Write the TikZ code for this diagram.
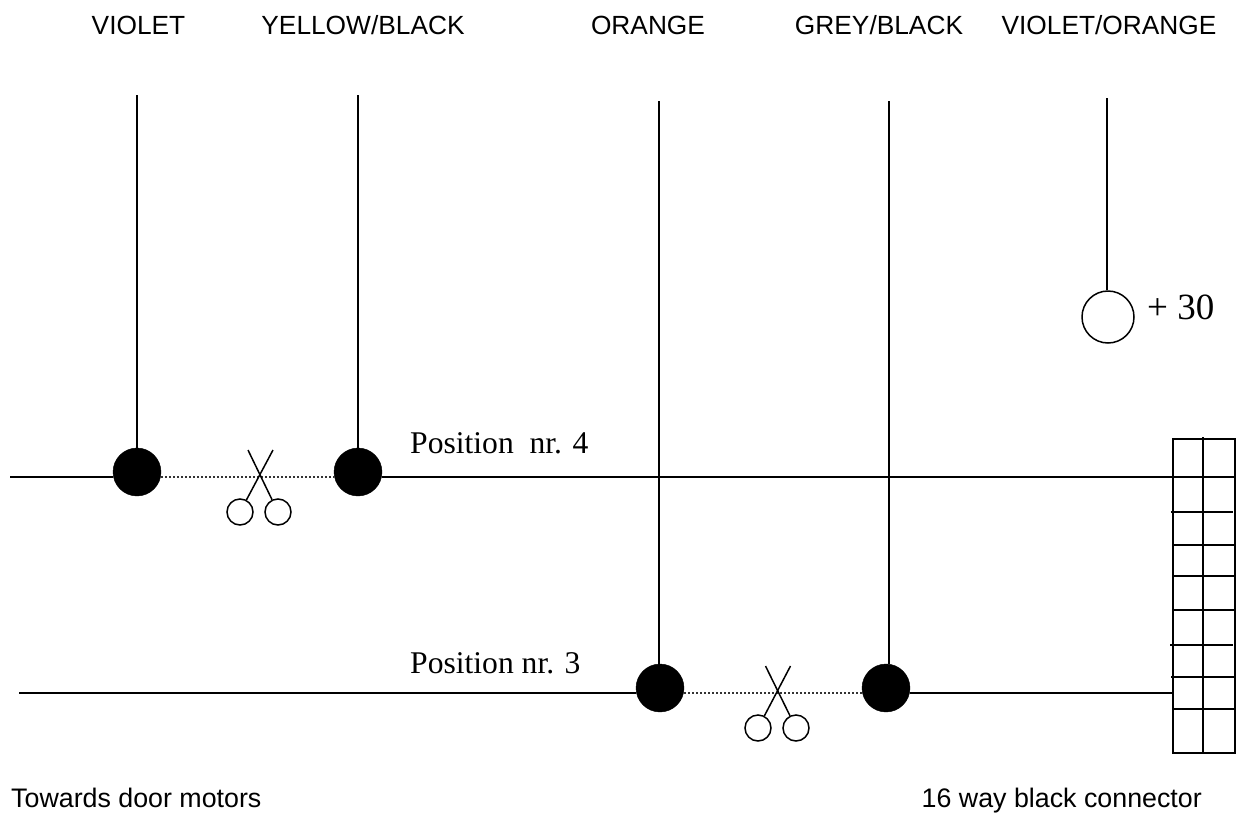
\documentclass[tikz,border=0pt]{standalone}
\usepackage{fontspec}
\setmainfont{Liberation Serif}
\newfontfamily\arialf{Liberation Sans}
\tikzset{
  wire/.style={line width=1.5pt,black},
  cutwire/.style={line width=1.5pt,black!80,dash pattern=on 1.5pt off 2.5pt},
  blob/.style={circle,fill=black,draw=black,inner sep=0pt,minimum size=48pt},
  hole/.style={circle,draw=black,line width=1.5pt,inner sep=0pt},
  grip/.style={hole,minimum size=26pt},
  plus/.style={hole,minimum size=52pt},
  colourlabel/.style={inner sep=0pt,anchor=base,font=\arialf\fontsize{26.3}{30}\selectfont},
  notelabel/.style={inner sep=0pt,font=\arialf\fontsize{26.8}{30}\selectfont},
  poslabel/.style={inner sep=0pt,font=\fontsize{31.6}{36}\selectfont,anchor=base west},
  pin/.style={line width=1.5pt,black}
}
\begin{document}
\begin{tikzpicture}[x=1pt,y=-1pt]
\useasboundingbox (0,0) rectangle (1239,814);
% labels
\node[colourlabel] (lv) at (138.5,34) {VIOLET};
\node[colourlabel] (lyb) at (363,34) {YELLOW/BLACK};
\node[colourlabel] (lo) at (648,34) {ORANGE};
\node[colourlabel] (lgb) at (879,34) {GREY/BLACK};
\node[colourlabel] (lvo) at (1109,34) {VIOLET/ORANGE};
\node[poslabel] (p4) at (410,453) {Position\ \ nr. 4};
\node[poslabel] (p3) at (410,673) {Position nr. 3};
\node[notelabel,anchor=base west] (tm) at (11,807) {Towards door motors};
\node[notelabel,anchor=base east] (bc) at (1202,807) {16 way black connector};
\node[inner sep=0pt,font=\fontsize{37}{42}\selectfont,anchor=base west] (p30) at (1147,319) {+ 30};
% splice dots
\node[blob] (a) at (137,472) {};
\node[blob] (b) at (358,472) {};
\node[blob] (c) at (660,688) {};
\node[blob] (d) at (886,688) {};
\node[plus] (e) at (1108,317) {};
% free ends
\coordinate (ta) at (137,95);
\coordinate (tb) at (358,95);
\coordinate (tc) at (659,101);
\coordinate (td) at (889,101);
\coordinate (te) at (1107,98);
\coordinate (l1) at (10,477);
\coordinate (l2) at (19,693);
\coordinate (r1) at (1173,477);
\coordinate (r2) at (1173,693);
\draw[wire] (ta) -- (a);
\draw[wire] (tb) -- (b);
\draw[wire] (tc) -- (tc |- c.north);
\draw[wire] (td) -- (td |- d.north);
\draw[wire] (te) -- (te |- e.north);
\draw[wire] (l1) -- (l1 -| a.west);
\draw[wire] (l2) -- (l2 -| c.west);
\draw[wire] (r1 -| b.east) -- (r1);
\draw[wire] (r2 -| d.east) -- (r2);
\draw[cutwire] (l1 -| a.east) -- (l1 -| b.west);
\draw[cutwire] (l2 -| c.east) -- (l2 -| d.west);
% scissors
\node[grip] (s1) at (240,512) {};
\node[grip] (s2) at (278,512) {};
\coordinate (s1t) at (273,450);
\coordinate (s2t) at (248,450);
\draw[wire] (s1) -- (s1t);
\draw[wire] (s2) -- (s2t);
\node[grip] (s3) at (758,728) {};
\node[grip] (s4) at (796,728) {};
\coordinate (s3t) at (790.5,666);
\coordinate (s4t) at (765.5,666);
\draw[wire] (s3) -- (s3t);
\draw[wire] (s4) -- (s4t);
% connector
\draw[pin] (1173,439) rectangle (1235,753);
\draw[pin] (1203,437) -- (1203,753);
\draw[pin] (1173,477) -- (1235,477);
\draw[pin] (1171,512) -- (1233,512);
\draw[pin] (1173,545) -- (1235,545);
\draw[pin] (1174,576) -- (1235,576);
\draw[pin] (1173,610) -- (1235,610);
\draw[pin] (1170,645) -- (1233,645);
\draw[pin] (1171,677) -- (1234,677);
\draw[pin] (1173,709) -- (1235,709);
\end{tikzpicture}
\end{document}
